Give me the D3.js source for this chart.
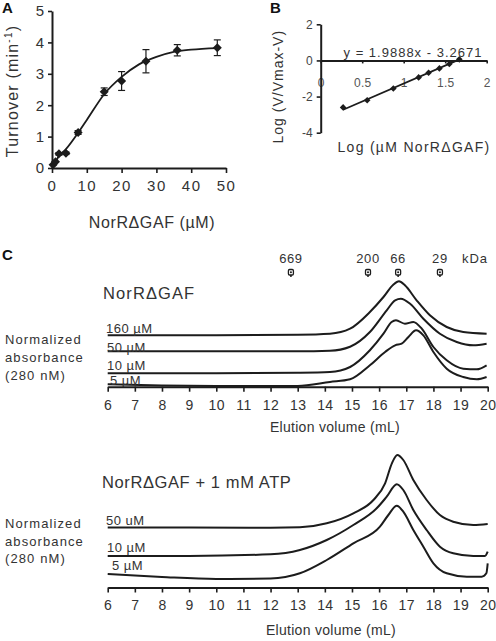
<!DOCTYPE html>
<html><head><meta charset="utf-8">
<script src="https://cdn.jsdelivr.net/npm/d3@7"></script>
<style>
body{margin:0;background:#fff}
text{font-family:"Liberation Sans",Arial,sans-serif;fill:#333}
</style>
</head><body><svg id="chart" width="496" height="641"></svg>
<script>
// ---------- Panel A: turnover vs NorRΔGAF ----------
const aConc      = [0.3, 1, 2, 4, 7.5, 15, 20, 27, 36, 47.5];
const aTurnover  = [0.1, 0.2, 0.45, 0.47, 1.13, 2.43, 2.77, 3.40, 3.75, 3.83];
const aError     = [0, 0, 0.04, 0.04, 0.06, 0.12, 0.30, 0.37, 0.18, 0.25];
const aFitConc   = [0, 1, 2, 4, 7.5, 10, 15, 20, 25, 30, 35, 40, 47.5];
const aFitValue  = [0.08, 0.2, 0.38, 0.6, 1.12, 1.53, 2.35, 2.9, 3.3, 3.54, 3.7, 3.77, 3.82];
const aXTicks    = [0, 10, 20, 30, 40, 50];
const aYTicks    = [0, 1, 2, 3, 4, 5];

// ---------- Panel B: Hill plot ----------
const bLogConc   = [0.27, 0.56, 0.875, 1.18, 1.30, 1.43, 1.55, 1.67];
const bLogRatio  = [-2.6, -2.2, -1.55, -0.94, -0.68, -0.44, -0.2, 0.06];
const bSlope = 1.9888, bIntercept = -3.2671;
const bFitRange  = [0.27, 1.68];
const bXTicks    = [0, 0.5, 1, 1.5, 2];
const bYTicks    = [-4, -2, 0, 2];

// ---------- Panel C: gel filtration ----------
const cXTicks = [6,7,8,9,10,11,12,13,14,15,16,17,18,19,20];
const standardsKDa = ["669", "200", "66", "29"];
const standardsMl  = [12.75, 15.59, 16.70, 18.24];

const topLabels = ["160 µM", "50 µM", "10 µM", "5 µM"];
const top160 = [[6,5.15],[10,5.15],[13,5.2],[14.19,5.3],[14.93,5.8],[15.66,7.47],[16.16,8.97],[16.52,10.2],[16.73,10.54],[16.95,10.14],[17.38,8.64],[17.87,7.14],[18.49,5.97],[19.1,5.47],[19.96,5.3]];
const top50  = [[6,3.55],[10,3.55],[13,3.55],[14.19,3.6],[14.93,4.0],[15.66,5.47],[16.28,7.64],[16.59,8.64],[16.80,8.8],[17.14,8.3],[17.63,6.8],[18.24,5.3],[18.86,4.47],[19.47,4.14],[19.96,4.3]];
const top10  = [[6,1.35],[10,1.35],[13,1.4],[14.19,1.47],[14.93,1.97],[15.66,3.64],[16.16,5.3],[16.46,6.47],[16.62,6.64],[16.95,6.3],[17.26,6.47],[17.57,5.8],[18.0,3.97],[18.49,2.64],[19.1,1.8],[19.6,1.74],[19.96,2.14]];
const top5   = [[6,0.24],[8,0.12],[10,0.07],[13,0.07],[14.19,0.47],[14.93,0.74],[15.66,2.14],[16.22,3.47],[16.59,4.14],[16.83,4.3],[17.08,4.97],[17.36,5.64],[17.63,5.14],[18.0,3.47],[18.49,1.8],[19.1,0.97],[19.6,0.74],[19.96,0.97]];

const botLabels = ["50 uM", "10 µM", "5 µM"];
const bot50 = [[6,6.0],[9,6.0],[12,5.98],[13.08,6.02],[14.07,6.42],[15.05,7.42],[15.79,8.75],[16.22,10.42],[16.47,12.42],[16.67,13.25],[16.89,12.75],[17.26,10.75],[17.75,8.75],[18.24,7.25],[18.73,6.58],[19.47,6.25],[20.0,6.35]];
const bot10 = [[6,3.15],[9,3.15],[12,3.32],[13.08,3.75],[14.07,4.75],[15.05,6.25],[15.91,7.92],[16.28,9.08],[16.65,10.32],[16.89,9.75],[17.26,7.75],[17.75,5.75],[18.24,4.08],[18.73,3.42],[19.47,3.15],[19.9,3.15],[20.0,3.58]];
const bot5  = [[6,1.35],[8,1.05],[10,0.85],[12,0.9],[13.08,1.42],[14.07,2.75],[15.05,4.42],[16.03,6.08],[16.34,7.25],[16.65,8.18],[16.89,7.58],[17.26,5.75],[17.63,4.08],[18.0,2.42],[18.49,1.42],[19.23,1.08],[19.78,1.08],[19.95,1.42],[20.0,2.42]];

// ================= drawing =================
const svg = d3.select("#chart");
svg.append("rect").attr("width",496).attr("height",641).attr("fill","#fff");
const INK = "#1c1c1c";

function txt(g, x, y, s, o = {}) {
  const t = g.append("text").attr("x", x).attr("y", y)
    .attr("font-size", o.size || 13)
    .attr("letter-spacing", o.ls || 0)
    .attr("text-anchor", o.anchor || "start")
    .text(s);
  if (o.bold) t.attr("font-weight", "bold").style("fill", "#111");
  if (o.rotate) t.attr("transform", `rotate(-90,${x},${y})`);
  return t;
}
function styleAxis(g, size, ls, color) {
  g.selectAll(".domain").attr("stroke", INK).attr("stroke-width", 2);
  g.selectAll(".tick line").attr("stroke", INK).attr("stroke-width", 1.6);
  g.selectAll(".tick text").attr("font-size", size).attr("letter-spacing", ls)
    .attr("font-family", '"Liberation Sans",Arial,sans-serif').style("fill", color || "#333");
}
const diamond = r => `M0,${-r}L${r},0L0,${r}L${-r},0Z`;
const plain = d => String(d);

// ---------- Panel A ----------
const gA = svg.append("g");
const xA = d3.scaleLinear([0, 50], [52, 226]);
const yA = d3.scaleLinear([0, 5], [168, 11]);
gA.append("g").attr("transform", `translate(0,${yA(0)})`)
  .call(d3.axisBottom(xA).tickValues(aXTicks).tickFormat(plain).tickSize(5).tickSizeOuter(0).tickPadding(7))
  .call(g => styleAxis(g, 15, 1.5));
gA.append("g").attr("transform", `translate(${xA(0)},0)`)
  .call(d3.axisLeft(yA).tickValues(aYTicks).tickFormat(plain).tickSize(4).tickSizeOuter(0).tickPadding(4))
  .call(g => styleAxis(g, 15, 0));
const fitA = aFitConc.map((c, i) => [c, aFitValue[i]]);
gA.append("path").datum(fitA)
  .attr("d", d3.line().x(d => xA(d[0])).y(d => yA(d[1])).curve(d3.curveMonotoneX))
  .attr("fill", "none").attr("stroke", INK).attr("stroke-width", 1.8);
const ptsA = aConc.map((c, i) => ({ c, v: aTurnover[i], e: aError[i] }));
const eb = gA.selectAll(".eb").data(ptsA.filter(d => d.e > 0)).join("g")
  .attr("stroke", INK).attr("stroke-width", 1.2);
eb.append("line").attr("x1", d => xA(d.c)).attr("x2", d => xA(d.c))
  .attr("y1", d => yA(d.v - d.e)).attr("y2", d => yA(d.v + d.e));
eb.append("line").attr("x1", d => xA(d.c) - 3.5).attr("x2", d => xA(d.c) + 3.5)
  .attr("y1", d => yA(d.v + d.e)).attr("y2", d => yA(d.v + d.e));
eb.append("line").attr("x1", d => xA(d.c) - 3.5).attr("x2", d => xA(d.c) + 3.5)
  .attr("y1", d => yA(d.v - d.e)).attr("y2", d => yA(d.v - d.e));
gA.selectAll(".ptA").data(ptsA).join("path")
  .attr("d", diamond(4.5)).attr("transform", d => `translate(${xA(d.c)},${yA(d.v)})`)
  .attr("fill", INK);
txt(gA, 152, 228, "NorRΔGAF (µM)", { size: 16, ls: 0.6, anchor: "middle" });
const yl = txt(gA, 17.5, 91, "", { size: 16, ls: 1.2, anchor: "middle", rotate: true });
yl.append("tspan").text("Turnover (min");
yl.append("tspan").text("-1").attr("font-size", 10).attr("dy", -6);
yl.append("tspan").text(")").attr("dy", 6);
txt(gA, 2, 13.3, "A", { size: 15, bold: true });

// ---------- Panel B ----------
const gB = svg.append("g");
const xB = d3.scaleLinear([0, 2], [320.7, 486.7]);
const yB = d3.scaleLinear([-4, 2], [132.7, 24.3]);
gB.append("g").attr("transform", `translate(0,${yB(0)})`)
  .call(d3.axisBottom(xB).tickValues(bXTicks).tickFormat(plain).tickSize(3).tickSizeOuter(0).tickPadding(15))
  .call(g => styleAxis(g, 12, 0.3, "#555"));
gB.append("g").attr("transform", `translate(${xB(0)},0)`)
  .call(d3.axisLeft(yB).tickValues(bYTicks).tickFormat(plain).tickSize(4).tickSizeOuter(0).tickPadding(4))
  .call(g => styleAxis(g, 12, 0, "#444"));
gB.append("line")
  .attr("x1", xB(bFitRange[0])).attr("y1", yB(bSlope * bFitRange[0] + bIntercept))
  .attr("x2", xB(bFitRange[1])).attr("y2", yB(bSlope * bFitRange[1] + bIntercept))
  .attr("stroke", INK).attr("stroke-width", 1.8);
gB.selectAll(".ptB").data(bLogConc.map((c, i) => [c, bLogRatio[i]])).join("path")
  .attr("d", diamond(3.3)).attr("transform", d => `translate(${xB(d[0])},${yB(d[1])})`)
  .attr("fill", INK);
txt(gB, 413, 56.7, `y = ${bSlope}x - ${Math.abs(bIntercept)}`, { size: 13, ls: 1, anchor: "middle" });
txt(gB, 414, 151.7, "Log (µM NorRΔGAF)", { size: 14, ls: 1.3, anchor: "middle" });
txt(gB, 283.5, 86.7, "Log (V/Vmax-V)", { size: 14, ls: 1, anchor: "middle", rotate: true });
txt(gB, 270, 13.3, "B", { size: 15, bold: true });

// ---------- Panel C ----------
const gC = svg.append("g");
const xC = d3.scaleLinear([6, 20], [107.7, 487.7]);
const yTop = d3.scaleLinear([0, 11], [386.7, 276.7]);
const yBot = d3.scaleLinear([0, 14], [587.5, 447.5]);
const lineTop = d3.line().x(d => xC(d[0])).y(d => yTop(d[1])).curve(d3.curveMonotoneX);
const lineBot = d3.line().x(d => xC(d[0])).y(d => yBot(d[1])).curve(d3.curveMonotoneX);

txt(gC, 2, 260, "C", { size: 15, bold: true });

// standards
standardsMl.forEach((v, i) => {
  const cx = xC(v), my = 273;
  txt(gC, cx, 262.5, standardsKDa[i], { size: 13, ls: 0.6, anchor: "middle" });
  gC.append("rect").attr("x", cx - 2.5).attr("y", my - 3.5).attr("width", 5).attr("height", 5.5)
    .attr("rx", 1.2).attr("fill", "#fff").attr("stroke", INK).attr("stroke-width", 1.3);
  gC.append("circle").attr("cx", cx).attr("cy", my - 0.8).attr("r", 1).attr("fill", INK);
  gC.append("line").attr("x1", cx).attr("x2", cx).attr("y1", my + 2).attr("y2", my + 4)
    .attr("stroke", INK).attr("stroke-width", 1.5);
});
txt(gC, 475, 262.5, "kDa", { size: 13, ls: 1, anchor: "middle" });

// top chromatograms
txt(gC, 103, 299, "NorRΔGAF", { size: 16.5, ls: 1.1 });
[top160, top50, top10, top5].forEach(s => {
  gC.append("path").datum(s).attr("d", lineTop).attr("fill", "none")
    .attr("stroke", INK).attr("stroke-width", 2);
});
const topLabelPos = [[106, 332.5], [107, 351.5], [107, 369.5], [110, 384.5]];
topLabels.forEach((l, i) => txt(gC, topLabelPos[i][0], topLabelPos[i][1], l, { size: 13, ls: 0.5 }));
["Normalized", "absorbance", "(280 nM)"].forEach((l, i) =>
  txt(gC, 5, 344 + i * 18, l, { size: 13, ls: 1.1 }));
gC.append("g").attr("transform", `translate(0,${yTop(0)})`)
  .call(d3.axisBottom(xC).tickValues(cXTicks).tickFormat(plain).tickSize(5).tickSizeOuter(0).tickPadding(8))
  .call(g => styleAxis(g, 14, 0.4));
txt(gC, 335, 432, "Elution volume (mL)", { size: 14, ls: 0.3, anchor: "middle" });

// bottom chromatograms
txt(gC, 102, 488, "NorRΔGAF + 1 mM ATP", { size: 16.5, ls: 0.6 });
[bot50, bot10, bot5].forEach(s => {
  gC.append("path").datum(s).attr("d", lineBot).attr("fill", "none")
    .attr("stroke", INK).attr("stroke-width", 2);
});
const botLabelPos = [[106, 525], [107, 552], [112, 570]];
botLabels.forEach((l, i) => txt(gC, botLabelPos[i][0], botLabelPos[i][1], l, { size: 13, ls: 0.5 }));
["Normalized", "absorbance", "(280 nM)"].forEach((l, i) =>
  txt(gC, 5, 528 + i * 17.5, l, { size: 13, ls: 1.1 }));
gC.append("g").attr("transform", `translate(0,${yBot(0)})`)
  .call(d3.axisBottom(xC).tickValues(cXTicks).tickFormat(plain).tickSize(5).tickSizeOuter(0).tickPadding(8))
  .call(g => styleAxis(g, 14, 0.4));
txt(gC, 331, 635, "Elution volume (mL)", { size: 14, ls: 0.3, anchor: "middle" });
</script>
</body></html>
